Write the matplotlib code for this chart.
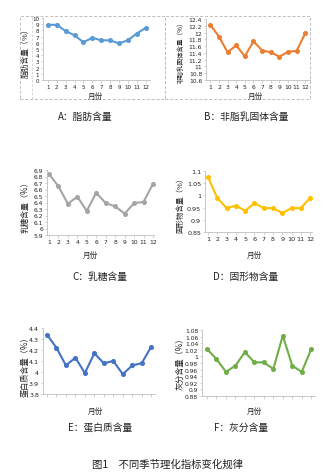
import matplotlib
matplotlib.use("Agg")
import matplotlib.pyplot as plt
import matplotlib.patches as mpatches

plt.rcParams['font.family'] = ['Noto Sans CJK SC', 'DejaVu Sans']

# Data: monthly values for each index
months = list(range(1, 13))
month_labels = [str(m) for m in months]

fat = [8.9, 8.9, 7.9, 7.2, 6.1, 6.8, 6.4, 6.4, 5.9, 6.4, 7.5, 8.4]
snf = [12.23, 11.88, 11.42, 11.62, 11.30, 11.74, 11.47, 11.42, 11.29, 11.43, 11.46, 11.98]
lactose = [6.84, 6.65, 6.38, 6.49, 6.27, 6.55, 6.39, 6.34, 6.23, 6.39, 6.41, 6.69]
solids = [1.075, 0.99, 0.948, 0.958, 0.937, 0.968, 0.948, 0.948, 0.928, 0.948, 0.948, 0.99]
protein = [4.34, 4.22, 4.06, 4.13, 3.99, 4.17, 4.08, 4.10, 3.98, 4.06, 4.08, 4.23]
ash = [1.022, 0.992, 0.953, 0.972, 1.013, 0.982, 0.982, 0.962, 1.063, 0.972, 0.953, 1.022]

ylabels = ["脂肪含量（%）", "非脂乳固体含量（%）", "乳糖含量（%）",
           "固形物含量（%）", "蛋白质含量（%）", "灰分含量（%）"]
captions = ["A：脂肪含量", "B：非脂乳固体含量", "C：乳糖含量",
            "D：固形物含量", "E：蛋白质含量", "F：灰分含量"]
colors = ["#5b9bd5", "#ed7d31", "#a5a5a5", "#ffc000", "#4472c4", "#70ad47"]

W, H = 334, 477
fig = plt.figure(figsize=(W / 100, H / 100), dpi=100)
fig.patch.set_facecolor("white")


def px_rect(x0, y0, x1, y1):
    return [x0 / W, 1 - y1 / H, (x1 - x0) / W, (y1 - y0) / H]


def ftext(x, y, s, **kw):
    fig.text(x / W, 1 - y / H, s, **kw)


# panel layout in pixels: axes box, xlim, ylim, yticks, label/caption spots
panels = [
    dict(box=(43, 19, 150, 81), xlim=(0.45, 12.5), ylim=(0, 10),
         yticks=[i for i in range(0, 11)], xt=True, tfs=4.0,
         ylab=(26, 51), yfs=5.6, xlab=(95, 97), cap=(85, 117)),
    dict(box=(206, 20, 310, 81), xlim=(0.5, 12.55), ylim=(10.6, 12.4),
         yticks=[10.6, 10.8, 11.0, 11.2, 11.4, 11.6, 11.8, 12.0, 12.2, 12.4],
         xt=True, tfs=4.3, ylab=(181, 51), yfs=4.7, xlab=(255, 97), cap=(246, 117)),
    dict(box=(47, 171, 154, 236), xlim=(0.8, 12.1), ylim=(5.9, 6.9),
         yticks=[5.9, 6.0, 6.1, 6.2, 6.3, 6.4, 6.5, 6.6, 6.7, 6.8, 6.9],
         xt=True, tfs=4.3, ylab=(25, 205), yfs=5.8, xlab=(90, 256), cap=(100, 277)),
    dict(box=(205, 172, 312, 233), xlim=(0.68, 12.2), ylim=(0.85, 1.1),
         yticks=[0.85, 0.9, 0.95, 1.0, 1.05, 1.1], xt=True, tfs=4.6,
         ylab=(180, 203), yfs=5.4, xlab=(254, 256), cap=(246, 277)),
    dict(box=(43, 329, 155, 395), xlim=(0.58, 12.4), ylim=(3.8, 4.4),
         yticks=[3.8, 3.9, 4.0, 4.1, 4.2, 4.3, 4.4], xt=False, tfs=4.6,
         ylab=(25, 365), yfs=5.9, xlab=(95, 412), cap=(100, 428)),
    dict(box=(202, 331, 315, 397), xlim=(0.47, 12.4), ylim=(0.88, 1.08),
         yticks=[0.88, 0.9, 0.92, 0.94, 0.96, 0.98, 1.0, 1.02, 1.04, 1.06, 1.08],
         xt=False, tfs=4.3, ylab=(180, 362), yfs=5.9, xlab=(254, 412), cap=(241, 428)),
]
series = [fat, snf, lactose, solids, protein, ash]

for p, vals, col, yl, cap in zip(panels, series, colors, ylabels, captions):
    ax = fig.add_axes(px_rect(*p["box"]))
    ax.plot(months, vals, color=col, lw=1.5, marker="o", ms=2.6,
            mec=col, mfc=col, solid_capstyle="round", clip_on=False)
    ax.set_xlim(*p["xlim"])
    ax.set_ylim(*p["ylim"])
    ax.set_yticks(p["yticks"])
    ax.set_yticklabels(["{:g}".format(round(v, 3)) for v in p["yticks"]],
                       family="DejaVu Sans")
    ax.set_xticks(months)
    if p["xt"]:
        ax.set_xticklabels(month_labels, family="DejaVu Sans")
    else:
        ax.set_xticklabels([])
    for s in ["top", "right"]:
        ax.spines[s].set_visible(False)
    for s in ["left", "bottom"]:
        ax.spines[s].set_color("#bfbfbf")
        ax.spines[s].set_linewidth(0.6)
    ax.tick_params(axis="both", labelsize=p["tfs"], length=1.8, width=0.5,
                   color="#bfbfbf", pad=1, labelcolor="#222222")
    ax.set_facecolor("none")
    ftext(*p["ylab"], yl, rotation=90, ha="center", va="center",
          fontsize=p["yfs"], color="#222222")
    ftext(*p["xlab"], "月份", ha="center", va="center", fontsize=5.5,
          color="#222222")
    ftext(*p["cap"], cap, ha="center", va="center", fontsize=7,
          color="#222222")

# dashed frames round the top two panels
for x0, x1 in [(20, 165), (165, 310)]:
    fig.patches.append(mpatches.Rectangle(
        (x0 / W, 1 - 100 / H), (x1 - x0) / W, 83 / H, transform=fig.transFigure,
        fill=False, ec="#bdbdbd", lw=0.7, ls=(0, (3, 2))))
fig.lines.append(plt.Line2D([32 / W, 32 / W], [1 - 100 / H, 1 - 17 / H],
                            transform=fig.transFigure, color="#cfcfcf",
                            lw=0.6, ls=(0, (3, 2))))

ftext(168, 465, "图1　不同季节理化指标变化规律", ha="center", va="center",
      fontsize=7.5, color="#222222")

fig.savefig("out.png", dpi=100, facecolor="white")
